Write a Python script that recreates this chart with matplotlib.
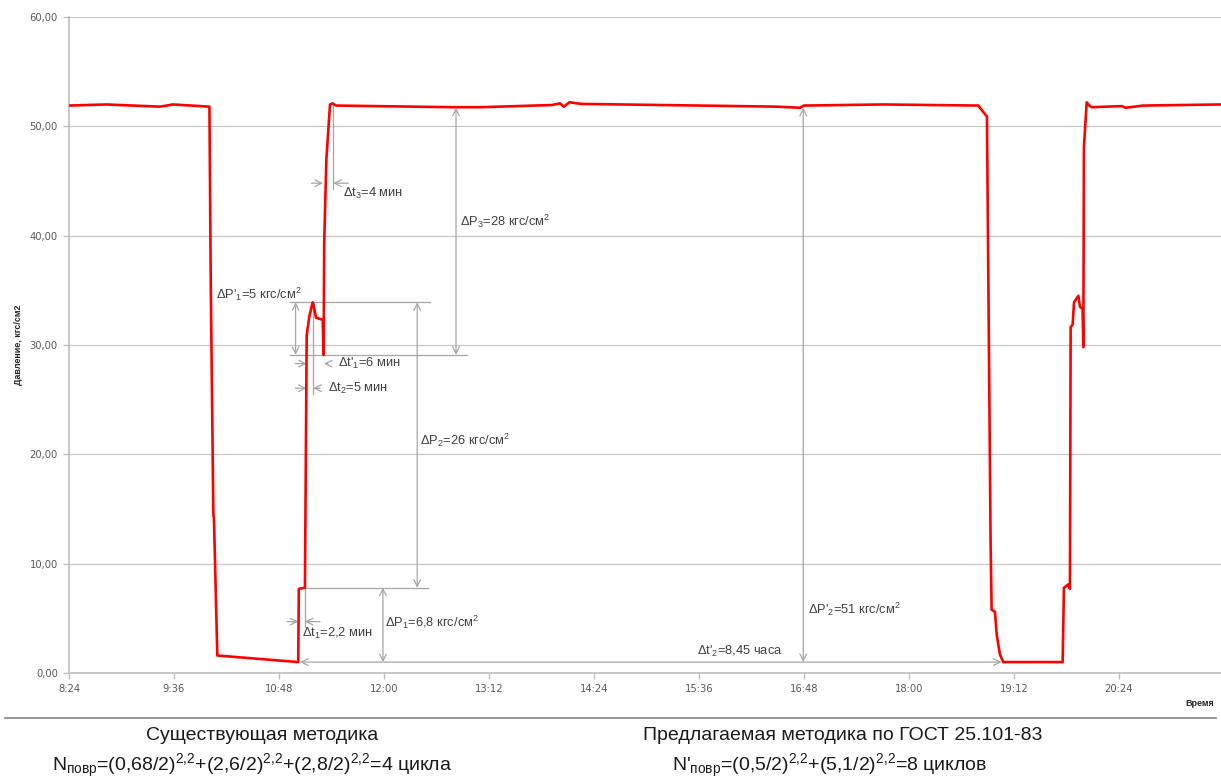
import matplotlib
matplotlib.use('Agg')
import matplotlib.pyplot as plt
from matplotlib.ticker import FixedLocator, FuncFormatter

plt.rcParams['font.family'] = ['Liberation Sans', 'DejaVu Sans']
plt.rcParams['mathtext.fontset'] = 'custom'
plt.rcParams['mathtext.rm'] = 'Liberation Sans'
plt.rcParams['mathtext.it'] = 'Liberation Sans'
plt.rcParams['mathtext.bf'] = 'Liberation Sans:bold'

# time in minutes after midnight, pressure in kgf/cm2
time_min = [504.0, 529.4, 566.4, 575.3, 600.3, 601.2, 603.0, 603.4, 605.7,
            661.2, 661.6, 665.8, 667.0, 668.8, 671.1, 671.5, 673.4, 678.0,
            678.6, 679.0, 680.5, 683.0, 684.8, 687.1, 767.3, 786.9, 835.2,
            840.7, 843.3, 847.3, 855.1, 909.8, 989.3, 1005.3, 1008.0, 1062.2,
            1127.5, 1133.5, 1136.0, 1136.7, 1139.0, 1140.2, 1142.4, 1144.7,
            1185.4, 1186.3, 1189.3, 1190.4, 1190.9, 1192.3, 1193.2, 1196.2,
            1197.3, 1199.1, 1199.6, 1200.0, 1201.9, 1203.7, 1205.3, 1225.9,
            1228.6, 1240.7, 1294.0]
pressure = [51.9, 52.0, 51.8, 52.0, 51.8, 35.8, 14.4, 14.2, 1.6,
            1.0, 7.7, 7.8, 30.9, 32.6, 33.9, 33.8, 32.5, 32.3,
            29.1, 39.3, 47.0, 52.0, 52.1, 51.9, 51.75, 51.75, 51.95,
            52.1, 51.8, 52.2, 52.05, 51.95, 51.8, 51.7, 51.9, 52.0,
            51.9, 50.9, 11.9, 5.8, 5.6, 3.5, 1.7, 1.0,
            1.0, 7.8, 8.1, 7.7, 31.6, 31.9, 33.9, 34.5,
            33.5, 33.3, 29.8, 48.1, 52.2, 51.9, 51.75, 51.85,
            51.7, 51.9, 52.0]

x_ticks = list(range(504, 1225, 72))
y_ticks = [0, 10, 20, 30, 40, 50, 60]

GRAY = '#a6a6a6'
TXT = '#404040'

fig = plt.figure(figsize=(12.21, 7.78), dpi=100)
ax = fig.add_axes([69 / 1221, 105 / 778, 1 - 69 / 1221, 656 / 778])

ax.plot(time_min, pressure, color='#ff0000', lw=1.9, zorder=5)

ax.set_xlim(504, 1294)
ax.set_ylim(0, 60)
ax.xaxis.set_major_locator(FixedLocator(x_ticks))
ax.yaxis.set_major_locator(FixedLocator(y_ticks))
ax.xaxis.set_major_formatter(FuncFormatter(lambda v, p: '%d:%02d' % (v // 60, v % 60)))
ax.yaxis.set_major_formatter(FuncFormatter(lambda v, p: ('%.2f' % v).replace('.', ',')))
ax.grid(axis='y', color='#c8c8c8', lw=0.9)
ax.set_axisbelow(True)
for s in ['top', 'right']:
    ax.spines[s].set_visible(False)
for s in ['left', 'bottom']:
    ax.spines[s].set_color('#bfbfbf')
    ax.spines[s].set_linewidth(1.2)
ax.tick_params(axis='both', colors='#bfbfbf', length=4, width=1)
for lab in ax.get_xticklabels() + ax.get_yticklabels():
    lab.set_color('#595959')
    lab.set_fontfamily(['DejaVu Sans'])
    lab.set_fontsize(7.2)
ax.tick_params(axis='y', pad=4)
ax.tick_params(axis='x', pad=4)

ax.set_ylabel('Давление, кгс/см2', fontsize=6.5, fontweight='bold', color='#262626')
ax.yaxis.set_label_coords(-0.040, 0.5)
fig.text(1200 / 1221, 1 - 703 / 778, 'Время', fontsize=6.5, fontweight='bold',
         color='#262626', ha='center', va='center')


def arrow(x1, y1, x2, y2, style='<->'):
    ax.annotate('', xy=(x2, y2), xytext=(x1, y1),
                arrowprops=dict(arrowstyle=style, color=GRAY, lw=0.9,
                                shrinkA=0, shrinkB=0, mutation_scale=12), zorder=3)


def line(x1, y1, x2, y2):
    ax.plot([x1, x2], [y1, y2], color=GRAY, lw=0.9, zorder=3)


def label(x, y, s, ha='left'):
    ax.text(x, y, s, fontsize=9.3, color=TXT, ha=ha, va='center', zorder=6)


# dP'1
line(655.6, 33.9, 751.5, 33.9)
line(655.6, 29.1, 776.7, 29.1)
arrow(659.4, 29.1, 659.4, 33.9)
label(605.0, 34.6, "ΔP$'_{1}$=5 кгс/см$^{2}$")
# dt'1
arrow(659.0, 28.3, 667.0, 28.3, '->')
arrow(681.6, 28.3, 678.9, 28.3, '->')
label(688.5, 28.3, "Δt$'_{1}$=6 мин")
# dt2
line(671.5, 33.9, 671.5, 25.5)
arrow(659.0, 26.05, 667.0, 26.05, '->')
arrow(676.1, 26.05, 671.5, 26.05, '->')
label(681.6, 26.0, "Δt$_{2}$=5 мин")
# dt1
line(665.8, 7.8, 665.8, 4.2)
arrow(653.5, 4.7, 661.2, 4.7, '->')
arrow(676.1, 4.7, 665.8, 4.7, '->')
label(663.8, 3.6, "Δt$_{1}$=2,2 мин")
# dP1
line(665.8, 7.8, 750.2, 7.8)
arrow(719.3, 1.0, 719.3, 7.8)
label(720.9, 4.67, "ΔP$_{1}$=6,8 кгс/см$^{2}$")
# dP2
arrow(742.8, 33.9, 742.8, 7.8)
label(744.7, 21.3, "ΔP$_{2}$=26 кгс/см$^{2}$")
# dP3
arrow(769.4, 51.7, 769.4, 29.1)
label(771.8, 41.3, "ΔP$_{3}$=28 кгс/см$^{2}$")
# dt3
line(685.2, 52.1, 685.2, 44.3)
arrow(670.2, 44.8, 678.2, 44.8, '->')
arrow(695.5, 44.8, 685.2, 44.8, '->')
label(692.1, 43.9, "Δt$_{3}$=4 мин")
# dt'2 and dP'2
arrow(662.4, 1.0, 1143.6, 1.0)
label(993.6, 2.0, "Δt$'_{2}$=8,45 часа", ha='right')
arrow(1007.5, 51.7, 1007.5, 1.0)
label(1010.7, 5.8, "ΔP$'_{2}$=51 кгс/см$^{2}$")

# bottom part
fig.add_artist(plt.Line2D([5 / 1221, 1216 / 1221], [1 - 718 / 778] * 2,
                          transform=fig.transFigure, color='#7f7f7f', lw=1.2))
fig.text(262 / 1221, 1 - 736 / 778, 'Существующая методика', fontsize=14,
         ha='center', va='center', color='#1a1a1a')
fig.text(843 / 1221, 1 - 736 / 778, 'Предлагаемая методика по ГОСТ 25.101-83',
         fontsize=14, ha='center', va='center', color='#1a1a1a')
fig.text(52 / 1221, 1 - 771 / 778,
         r'N$_{\mathrm{повр}}$=(0,68/2)$^{2{,}2}$+(2,6/2)$^{2{,}2}$+(2,8/2)$^{2{,}2}$=4 цикла',
         fontsize=14, ha='left', va='baseline', color='#1a1a1a')
fig.text(672 / 1221, 1 - 771 / 778,
         r"N$'_{\mathrm{повр}}$=(0,5/2)$^{2{,}2}$+(5,1/2)$^{2{,}2}$=8 циклов",
         fontsize=14, ha='left', va='baseline', color='#1a1a1a')

fig.savefig('out.png', dpi=100)
